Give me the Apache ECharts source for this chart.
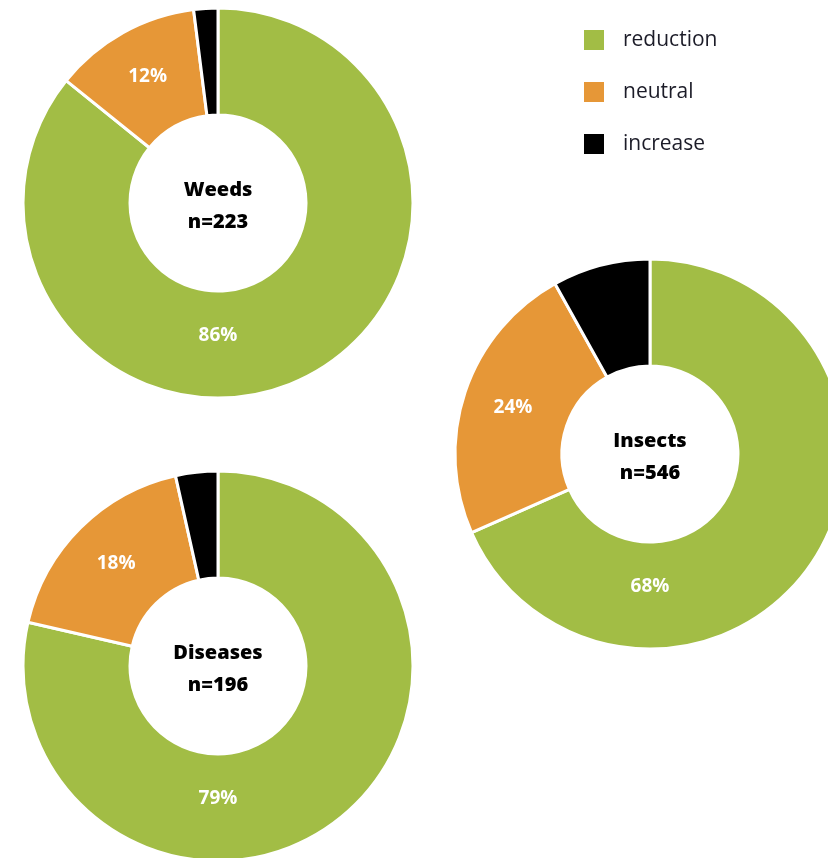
<!DOCTYPE html>
<html>
<head>
<meta charset="utf-8">
<script src="https://cdn.jsdelivr.net/npm/echarts@6/dist/echarts.min.js"></script>
<style>
  html, body { margin: 0; padding: 0; background: #fff; }
  #chart { width: 828px; height: 858px; }
</style>
</head>
<body>
<div id="chart"></div>
<script>
// 数据
const categories = ["reduction", "neutral", "increase"];
const groups = ["Weeds", "Insects", "Diseases"];
const counts = [223, 546, 196];
const weedsValues = [85.8, 12.2, 2.0];
const insectsValues = [68.4, 23.5, 8.1];
const diseasesValues = [78.6, 17.9, 3.5];

const color = ["#a2bd45", "#e69737", "#000000"];
const fontFamily = "'Open Sans', 'Noto Sans', sans-serif";

// 每个环形图的位置
const centers = [
  [218, 203],
  [650, 454],
  [218, 666],
];
const outerR = 195;
const innerR = 88;

const allValues = [weedsValues, insectsValues, diseasesValues];

const myChart = echarts.init(document.getElementById("chart"), null, { renderer: "canvas" });

const series = allValues.map((vals, si) => {
  const c = centers[si];
  return {
    name: groups[si],
    type: "pie",
    center: c,
    radius: [innerR, outerR],
    startAngle: 90,
    clockwise: true,
    avoidLabelOverlap: false,
    silent: true,
    itemStyle: {
      borderColor: "#fff",
      borderWidth: 3,
    },
    label: {
      show: true,
      position: "inside",
      color: "#fff",
      fontFamily: fontFamily,
      fontWeight: "bold",
      fontSize: 19,
      formatter: (p) => (p.dataIndex === 2 ? "" : Math.round(p.value) + "%"),
    },
    labelLine: { show: false },
    // 绿色的标签放在正下方
    labelLayout: (params) => {
      if (params.dataIndex === 0) {
        return { x: c[0], y: c[1] + 133, align: "center", verticalAlign: "middle" };
      }
      return {};
    },
    data: vals.map((v, i) => ({ name: categories[i], value: v })),
  };
});

const titles = groups.map((g, i) => ({
  text: g + "\nn=" + counts[i],
  left: centers[i][0],
  top: centers[i][1] + 3,
  padding: 0,
  textAlign: "center",
  textVerticalAlign: "middle",
  textStyle: {
    fontFamily: fontFamily,
    fontWeight: 900,
    fontSize: 20,
    lineHeight: 32,
    color: "#000",
  },
}));

let option = {
  animation: false,
  color: color,
  title: titles,
  legend: {
    orient: "vertical",
    left: 582,
    top: 28,
    padding: 0,
    itemWidth: 22,
    itemHeight: 22,
    itemGap: 28,
    icon: "rect",
    data: categories,
    selectedMode: false,
    textStyle: {
      fontFamily: fontFamily,
      fontSize: 21,
      lineHeight: 22,
      color: "#1c1c28",
      padding: [0, 0, 0, 13],
    },
  },
  series: series,
};
myChart.setOption(option, true);
</script>
</body>
</html>
